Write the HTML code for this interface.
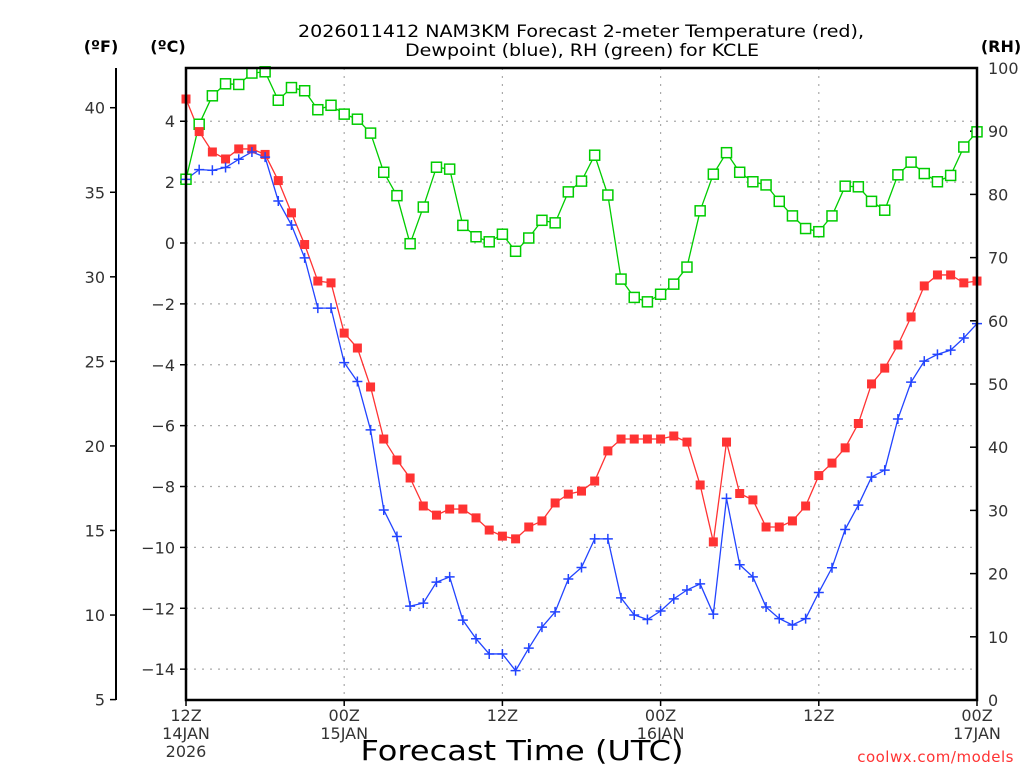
<!DOCTYPE html>
<html><head><meta charset="utf-8"><style>
html,body{margin:0;padding:0;background:#fff}
svg{display:block;font-family:"DejaVu Sans","Liberation Sans",sans-serif}
</style></head><body>
<svg id="chart" width="1024" height="768" viewBox="0 0 1024 768" xmlns="http://www.w3.org/2000/svg">
<rect width="1024" height="768" fill="#fff"/>
<text x="581" y="37" font-size="17" text-anchor="middle" fill="#000" textLength="566" lengthAdjust="spacingAndGlyphs">2026011412 NAM3KM Forecast 2-meter Temperature (red),</text>
<text x="582" y="56" font-size="17" text-anchor="middle" fill="#000" textLength="354" lengthAdjust="spacingAndGlyphs">Dewpoint (blue), RH (green) for KCLE</text>
<text x="101" y="52" font-size="16" font-weight="bold" text-anchor="middle">(ºF)</text>
<text x="168" y="52" font-size="16" font-weight="bold" text-anchor="middle">(ºC)</text>
<text x="1001" y="52" font-size="16" font-weight="bold" text-anchor="middle">(RH)</text>
<g id="grid"></g>
<g id="axes"></g>
<g id="series"></g>
<rect x="186" y="68" width="791" height="632" fill="none" stroke="#000" stroke-width="2.5"/>
<text x="522" y="760" font-size="28" text-anchor="middle" textLength="323" lengthAdjust="spacingAndGlyphs">Forecast Time (UTC)</text>
<text x="1014" y="762" font-size="15" text-anchor="end" fill="#f33" letter-spacing="0.5">coolwx.com/models</text>
</svg>
<script>
const hours = [];
for (let i = 0; i <= 60; i++) hours.push(i);
const tempC = [4.73,3.66,2.99,2.76,3.09,3.09,2.91,2.05,0.99,-0.05,-1.25,-1.31,-2.96,-3.45,-4.73,-6.44,-7.13,-7.72,-8.64,-8.94,-8.74,
-8.74,-9.03,-9.43,-9.63,-9.72,-9.33,-9.13,-8.54,-8.25,-8.15,-7.82,-6.83,-6.44,-6.44,-6.44,-6.44,-6.34,-6.54,-7.95,-9.82,
-6.54,-8.23,-8.44,-9.33,-9.33,-9.13,-8.64,-7.64,-7.23,-6.73,-5.93,-4.63,-4.11,-3.35,-2.43,-1.41,-1.05,-1.05,-1.31,-1.25];
const dewC = [2.09,2.41,2.39,2.48,2.75,2.99,2.82,1.38,0.59,-0.49,-2.14,-2.14,-3.93,-4.55,-6.14,-8.77,-9.64,-11.93,-11.83,-11.14,-10.97,
-12.39,-13.0,-13.5,-13.5,-14.05,-13.31,-12.62,-12.12,-11.04,-10.66,-9.72,-9.72,-11.66,-12.22,-12.37,-12.09,-11.69,-11.4,-11.2,-12.19,
-8.39,-10.57,-10.97,-11.96,-12.34,-12.55,-12.34,-11.48,-10.67,-9.41,-8.61,-7.69,-7.46,-5.78,-4.57,-3.88,-3.66,-3.52,-3.12,-2.65];
const rh = [82.4,91.1,95.6,97.5,97.4,99.2,99.4,94.9,96.9,96.4,93.4,94.1,92.7,91.9,89.7,83.5,79.8,72.2,78.0,84.3,84.0,
75.1,73.3,72.5,73.7,71.0,73.1,75.9,75.5,80.4,82.1,86.2,79.9,66.6,63.7,63.0,64.2,65.8,68.5,77.4,83.2,
86.6,83.5,82.0,81.5,78.9,76.6,74.6,74.1,76.6,81.3,81.2,78.9,77.5,83.1,85.1,83.3,82.0,83.0,87.5,89.9];
const cTicks = [4,2,0,-2,-4,-6,-8,-10,-12,-14];
const fTicks = [40,35,30,25,20,15,10,5];
const rhTicks = [100,90,80,70,60,50,40,30,20,10,0];
const xTickHours = [0,12,24,36,48,60];
const xTickLabels = [["12Z","14JAN","2026"],["00Z","15JAN"],["12Z"],["00Z","16JAN"],["12Z"],["00Z","17JAN"]];

const L=186,R=977,T=68,B=700;
const xS = h => L + (R-L)*h/60;
const yC = c => 243 - c*30.44;
const yF = f => yC((f-32)/1.8);
const yRH = r => B - (B-T)*r/100;
const NS="http://www.w3.org/2000/svg";
function mk(tag, attrs, parent){const e=document.createElementNS(NS,tag);for(const k in attrs)e.setAttribute(k,attrs[k]);parent.appendChild(e);return e;}
const grid=document.getElementById('grid'), axes=document.getElementById('axes'), series=document.getElementById('series');

cTicks.forEach(c=>{
  const y=yC(c);
  const g=mk('line',{x1:L,x2:R,y1:y,y2:y,stroke:'#aaa','stroke-width':1.2,'stroke-dasharray':'2,6'},grid);
  
  
  const t=mk('line',{x1:L-6,x2:L,y1:y,y2:y,stroke:'#000','stroke-width':1.5},axes);
  
  
  const lb=mk('text',{x:L-11,y:y+6,'font-size':16,'text-anchor':'end',fill:'#333'},axes);
  lb.textContent=c<0?'\u2212'+(-c):String(c);
  
  
});
xTickHours.forEach((h,i)=>{
  const x=xS(h);
  if(h>0&&h<60){
    const g=mk('line',{x1:x,x2:x,y1:T,y2:B,stroke:'#aaa','stroke-width':1.2,'stroke-dasharray':'2,6'},grid);
    
    
  }
  const t=mk('line',{x1:x,x2:x,y1:B,y2:B+6,stroke:'#000','stroke-width':1.5},axes);
  
  
  xTickLabels[i].forEach((s,j)=>{
    const lb=mk('text',{x:x,y:721+j*18,'font-size':16,'text-anchor':'middle',fill:'#333'},axes);
    lb.textContent=s;
    
    
  });
});
const fl=mk('line',{x1:116,x2:116,y1:T,y2:B,stroke:'#000','stroke-width':2},axes);


fTicks.forEach(f=>{
  const y=yF(f);
  const t=mk('line',{x1:110,x2:116,y1:y,y2:y,stroke:'#000','stroke-width':1.5},axes);
  
  
  const lb=mk('text',{x:105,y:y+6,'font-size':16,'text-anchor':'end',fill:'#333'},axes);
  lb.textContent=f;
  
  
});
rhTicks.forEach(r=>{
  const y=yRH(r);
  const t=mk('line',{x1:R-7,x2:R,y1:y,y2:y,stroke:'#000','stroke-width':1.5},axes);
  
  
  const lb=mk('text',{x:988,y:y+6,'font-size':16,'text-anchor':'start',fill:'#333'},axes);
  lb.textContent=r;
  
  
});

function line(vals,yf,color,name){
  const p=mk('polyline',{points:vals.map((v,i)=>xS(hours[i])+','+yf(v)).join(' '),fill:'none',stroke:color,'stroke-width':1.3},series);
  
  
}
line(rh,yRH,'#0c0','rh-line');
line(tempC,yC,'#f33','temperature-line');
line(dewC,yC,'#24f','dewpoint-line');
rh.forEach((v,i)=>{
  const m=mk('rect',{x:xS(hours[i])-5,y:yRH(v)-5,width:10,height:10,fill:'#fff',stroke:'#0c0','stroke-width':1.5},series);
  
  
});
tempC.forEach((v,i)=>{
  const m=mk('rect',{x:xS(hours[i])-4.5,y:yC(v)-4.5,width:9,height:9,fill:'#f33'},series);
  
  
});
dewC.forEach((v,i)=>{
  const x=xS(hours[i]),y=yC(v);
  const m=mk('path',{d:`M${x-5},${y}H${x+5}M${x},${y-5}V${y+5}`,stroke:'#24f','stroke-width':1.5,fill:'none'},series);
  
  
});
</script>
</body></html>
